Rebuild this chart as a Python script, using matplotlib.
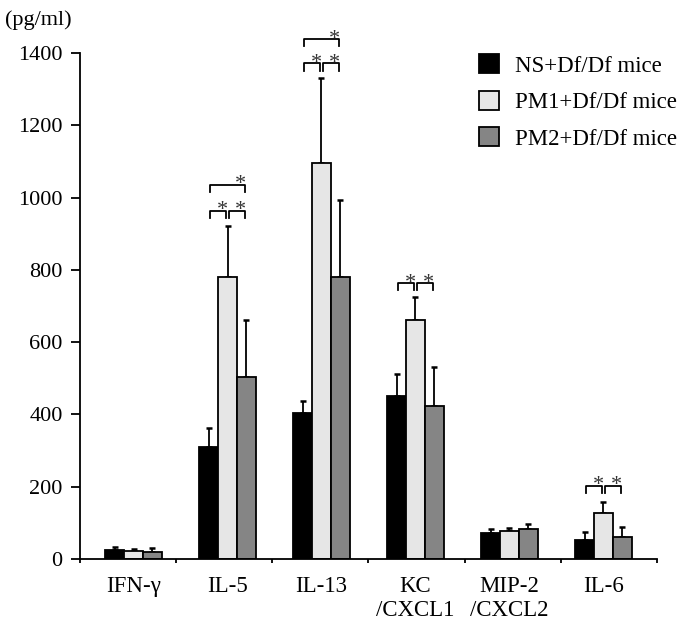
import matplotlib
matplotlib.use('Agg')
import matplotlib.pyplot as plt
from matplotlib.patches import Patch
import numpy as np

plt.rcParams['font.family'] = ['Liberation Serif', 'DejaVu Serif']

# data (pg/ml)
categories = ['IFN-\u03b3', 'IL-5', 'IL-13', 'KC\n/CXCL1', 'MIP-2\n/CXCL2', 'IL-6']
groups = ['NS+Df/Df mice', 'PM1+Df/Df mice', 'PM2+Df/Df mice']
colors = ['#000000', '#e6e6e6', '#858585']

ns_mean = [26, 310, 405, 451, 71, 53]
ns_sd = [8, 52, 33, 61, 12, 21]
pm1_mean = [22, 780, 1095, 660, 77, 126]
pm1_sd = [6, 140, 236, 64, 10, 33]
pm2_mean = [19, 503, 781, 423, 83, 61]
pm2_sd = [11, 157, 213, 108, 13, 28]

# significance brackets: (category, bar a, bar b, height)
sig_pairs = [
        (1, 0, 1, 964), (1, 1, 2, 964), (1, 0, 2, 1035),
        (2, 0, 1, 1371), (2, 1, 2, 1371), (2, 0, 2, 1438),
        (3, 0, 1, 763), (3, 1, 2, 763),
        (5, 0, 1, 202), (5, 1, 2, 202),
]

means = [ns_mean, pm1_mean, pm2_mean]
sds = [ns_sd, pm1_sd, pm2_sd]

fig = plt.figure(figsize=(6.86, 6.22), dpi=100)
ax = fig.add_axes([0.1166, 0.1013, 0.8411, 0.8135])

x = np.arange(len(categories))
w = 0.2
offsets = [-w, 0, w]

for k in range(3):
        ax.bar(x + offsets[k], means[k], width=w, color=colors[k],
                edgecolor='black', linewidth=1.3, zorder=2)
        ax.errorbar(x + offsets[k], means[k],
                yerr=[np.zeros(len(x)), sds[k]], fmt='none',
                ecolor='black', elinewidth=1.3, capsize=2.3, capthick=1.8, zorder=1)

# brackets with stars
leg = 20
for cat, a, b, h in sig_pairs:
        x0 = cat + offsets[a] + 0.012
        x1 = cat + offsets[b] - 0.012
        ax.plot([x0, x0, x1, x1], [h - leg, h, h, h - leg], color='black',
                lw=1.3, clip_on=False, zorder=3)
        ax.text(x1 - 0.045, h - 12, '*', ha='center', va='baseline',
                fontsize=16, color='#333333', clip_on=False)

xmin, xmax = -0.57, 5.57
ax.set_xlim(xmin, xmax)
ax.set_ylim(0, 1400)
ax.set_yticks(range(0, 1401, 200))
ax.tick_params(axis='y', labelsize=16, length=6.5, width=1.3, direction='out', pad=6)

ax.set_xticks(x)
ax.set_xticklabels(categories, fontsize=16.5, linespacing=1.2)
ax.set_xticks(np.linspace(xmin, xmax, 7), minor=True)
ax.tick_params(axis='x', which='major', length=0, pad=12)
ax.tick_params(axis='x', which='minor', length=3, width=1.3, direction='out')

for side in ['top', 'right']:
        ax.spines[side].set_visible(False)
ax.spines['left'].set_linewidth(1.3)
ax.spines['bottom'].set_linewidth(1.3)

fig.text(0.007, 0.968, '(pg/ml)', fontsize=16, ha='left', va='center')

handles = [Patch(facecolor=c, edgecolor='black', linewidth=1.3) for c in colors]
ax.legend(handles, groups, loc='upper left', bbox_to_anchor=(0.698, 0.913),
        bbox_transform=fig.transFigure, frameon=False, fontsize=16.5,
        handlelength=0.9, handleheight=0.9, handletextpad=0.7,
        labelspacing=0.62, borderpad=0, borderaxespad=0)

fig.savefig('out.png', dpi=100)
